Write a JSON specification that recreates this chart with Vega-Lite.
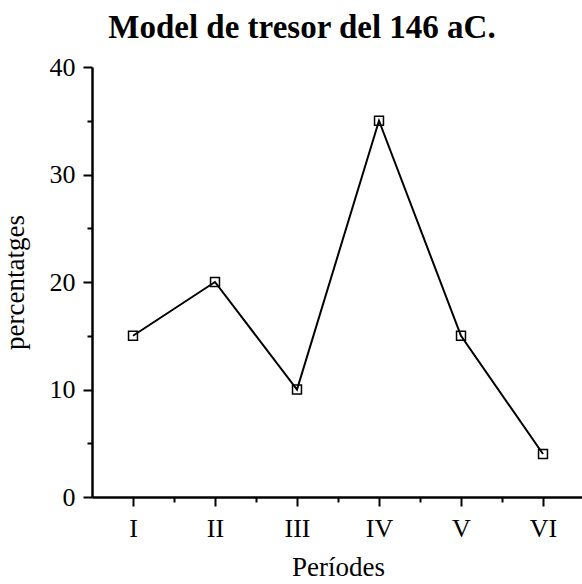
{
  "$schema": "https://vega.github.io/schema/vega-lite/v6.json",
  "autosize": {"type": "none"},
  "width": 492,
  "height": 430,
  "padding": {"left": 92, "top": 67, "right": 0, "bottom": 87},
  "background": "white",
  "title": {
    "text": "Model de tresor del 146 aC.",
    "font": "Liberation Serif",
    "fontSize": 33,
    "fontWeight": "bold",
    "color": "black",
    "anchor": "middle",
    "dx": -36,
    "offset": 9
  },
  "config": {
    "view": {"stroke": null},
    "axis": {
      "labelFont": "Liberation Serif",
      "titleFont": "Liberation Serif",
      "labelColor": "black",
      "titleColor": "black",
      "domainColor": "black",
      "tickColor": "black",
      "grid": false,
      "labelFontSize": 26,
      "titleFontSize": 27,
      "titleFontWeight": "normal",
      "domainWidth": 2.5,
      "tickWidth": 2
    }
  },
  "data": {
    "values": [
      {"n": 1, "periode": "I", "percentatge": 15},
      {"n": 2, "periode": "II", "percentatge": 20},
      {"n": 3, "periode": "III", "percentatge": 10},
      {"n": 4, "periode": "IV", "percentatge": 35},
      {"n": 5, "periode": "V", "percentatge": 15},
      {"n": 6, "periode": "VI", "percentatge": 4}
    ]
  },
  "encoding": {
    "x": {
      "field": "n",
      "type": "quantitative",
      "scale": {"domain": [0.5, 6.5], "nice": false, "zero": false},
      "axis": {
        "title": "Períodes",
        "values": [1, 1.5, 2, 2.5, 3, 3.5, 4, 4.5, 5, 5.5, 6, 6.5],
        "labelExpr": "datum.value % 1 === 0 ? ['','I','II','III','IV','V','VI'][datum.value] : ''",
        "tickSize": {"condition": {"test": "datum.value % 1 === 0", "value": 9}, "value": 5},
        "labelPadding": 9,
        "titlePadding": 13,
        "labelFlush": false,
        "labelOverlap": false
      }
    },
    "y": {
      "field": "percentatge",
      "type": "quantitative",
      "scale": {"domain": [0, 40], "nice": false},
      "axis": {
        "title": "percentatges",
        "values": [0, 5, 10, 15, 20, 25, 30, 35, 40],
        "labelExpr": "datum.value % 10 === 0 ? datum.label : ''",
        "tickSize": {"condition": {"test": "datum.value % 10 === 0", "value": 9}, "value": 5},
        "labelPadding": 8,
        "titlePadding": 20,
        "labelFlush": false,
        "labelOverlap": false
      }
    }
  },
  "layer": [
    {"mark": {"type": "line", "color": "black", "strokeWidth": 2}},
    {"mark": {"type": "point", "shape": "square", "filled": false, "color": "black", "strokeWidth": 1.5, "size": 80, "opacity": 1}}
  ]
}
